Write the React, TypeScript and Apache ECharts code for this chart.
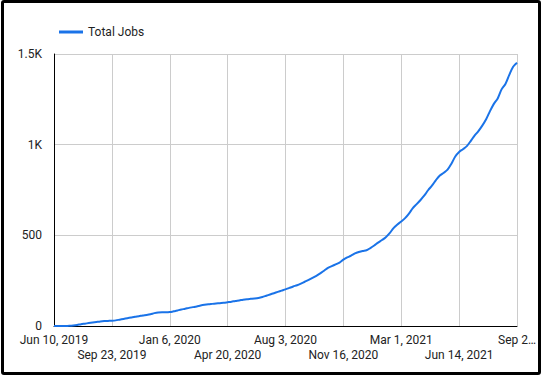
import React, { useEffect, useRef } from "react";
import * as echarts from "echarts";

const seriesName = "Total Jobs";
const startDate = "2019-06-10";
const tickLabels = [
  "Jun 10, 2019",
  "Sep 23, 2019",
  "Jan 6, 2020",
  "Apr 20, 2020",
  "Aug 3, 2020",
  "Nov 16, 2020",
  "Mar 1, 2021",
  "Jun 14, 2021",
  "Sep 2…",
];
const totalJobs = [
  0, 0, 0, 0, 1, 3, 6, 10, 13, 16,
  19, 22, 25, 27, 28, 29, 31, 35, 39, 43,
  47, 51, 54, 58, 61, 65, 71, 75, 76, 76,
  77, 81, 86, 91, 95, 100, 104, 108, 113, 117,
  120, 122, 124, 126, 128, 131, 134, 138, 141, 145,
  148, 150, 152, 155, 160, 167, 174, 181, 188, 195,
  202, 210, 218, 225, 234, 244, 254, 265, 277, 290,
  305, 320, 330, 340, 350, 366, 378, 388, 400, 408,
  414, 418, 430, 444, 460, 474, 490, 512, 540, 560,
  576, 595, 620, 650, 672, 695, 720, 750, 775, 805,
  830, 845, 862, 895, 935, 960, 975, 992, 1020, 1050,
  1075, 1105, 1140, 1185, 1225, 1255, 1305, 1335, 1385, 1430,
  1452,
];
const yTicks = [0, 500, 1000, 1500];
const yTickLabels = ["0", "500", "1K", "1.5K"];

const MONTHS = ["Jan", "Feb", "Mar", "Apr", "May", "Jun", "Jul", "Aug", "Sep", "Oct", "Nov", "Dec"];
function weekCategories(start: string, n: number): string[] {
  const out: string[] = [];
  const d0 = new Date(start + "T00:00:00Z");
  for (let i = 0; i < n; i++) {
    const d = new Date(d0.getTime() + i * 7 * 86400000);
    out.push(`${MONTHS[d.getUTCMonth()]} ${d.getUTCDate()}, ${d.getUTCFullYear()}`);
  }
  return out;
}

export default function App() {
  const ref = useRef<HTMLDivElement>(null);
  useEffect(() => {
    if (!ref.current) return;
    const chart = echarts.init(ref.current, null, { renderer: "svg" });
    const categories = weekCategories(startDate, totalJobs.length);
    const font = "Roboto";
    const labelFor = (row: number) => (_v: string, idx: number) => {
      const k = Math.round(idx / 15);
      return k % 2 === row ? tickLabels[k] ?? "" : "";
    };
    const baseLabel = {
      interval: 14,
      showMinLabel: true,
      showMaxLabel: true,
      fontFamily: font,
      fontSize: 12,
      color: "#222",
    };
    chart.setOption({
      animation: false,
      textStyle: { fontFamily: font },
      legend: {
        data: [seriesName],
        left: 54,
        top: 21,
        icon: "rect",
        itemWidth: 24,
        itemHeight: 3,
        itemGap: 5,
        textStyle: { fontFamily: font, fontSize: 12, color: "#222" },
      },
      grid: { left: 54, right: 26, top: 54, bottom: 51, containLabel: false },
      xAxis: [
        {
          type: "category",
          data: categories,
          boundaryGap: false,
          axisLine: { show: true, lineStyle: { color: "#000", width: 1 } },
          axisTick: { show: false },
          splitLine: { show: true, interval: 14, lineStyle: { color: "#ccc", width: 1 } },
          axisLabel: { ...baseLabel, margin: 8, formatter: labelFor(0) },
        },
        {
          type: "category",
          data: categories,
          position: "bottom",
          boundaryGap: false,
          axisLine: { show: false },
          axisTick: { show: false },
          splitLine: { show: false },
          axisLabel: { ...baseLabel, margin: 23, formatter: labelFor(1) },
        },
      ],
      yAxis: {
        type: "value",
        min: 0,
        max: 1500,
        interval: 500,
        axisLine: { show: true, lineStyle: { color: "#000", width: 1 } },
        axisTick: { show: false },
        splitLine: { show: true, lineStyle: { color: "#ccc", width: 1 } },
        axisLabel: {
          margin: 12,
          fontFamily: font,
          fontSize: 12,
          color: "#222",
          formatter: (v: number) => {
            const i = yTicks.indexOf(v);
            return i >= 0 ? yTickLabels[i] : String(v);
          },
        },
      },
      series: [
        {
          name: seriesName,
          type: "line",
          xAxisIndex: 0,
          data: totalJobs,
          showSymbol: false,
          symbol: "none",
          smooth: 0.3,
          lineStyle: { color: "#1a73e8", width: 2 },
          itemStyle: { color: "#1a73e8" },
        },
      ],
    });
    return () => chart.dispose();
  }, []);
  return (
    <div style={{ position: "fixed", left: 0, top: 0, width: 543, height: 377, background: "#fff" }}>
      <div ref={ref} style={{ position: "absolute", left: 0, top: 0, width: 543, height: 377 }} />
      <div
        style={{
          position: "absolute",
          left: 1,
          top: 0,
          width: 540,
          height: 375,
          border: "3px solid #000",
          borderRadius: 3,
          boxSizing: "border-box",
          pointerEvents: "none",
        }}
      />
    </div>
  );
}
